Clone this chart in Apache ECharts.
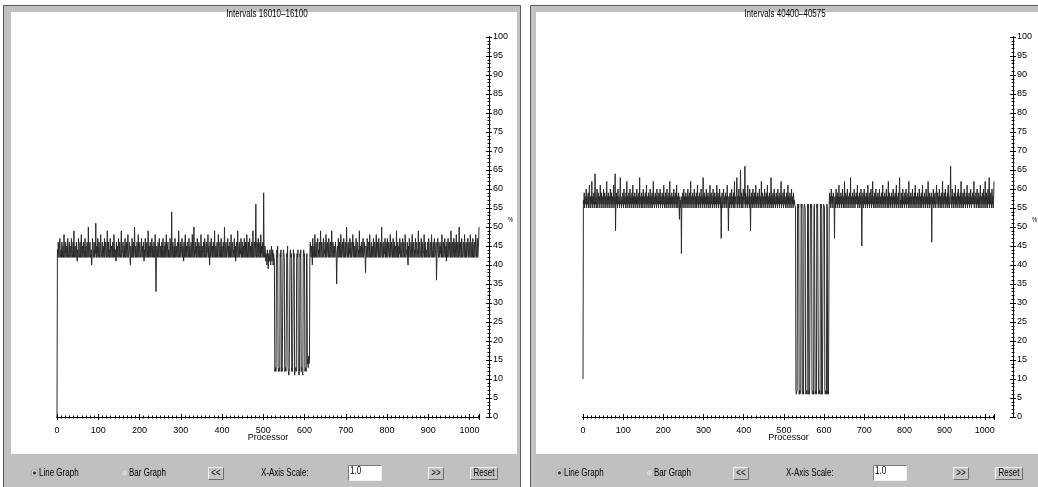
<!DOCTYPE html>
<html>
<head>
<meta charset="utf-8">
<script src="https://cdn.jsdelivr.net/npm/echarts@6/dist/echarts.min.js"></script>
<style>
html,body{margin:0;padding:0;background:#fff;}
#c{width:1038px;height:487px;}
</style>
</head>
<body>
<div id="c"></div>
<script>
// Per-processor utilisation (%) for two interval windows, processors 0..1023
const leftTitle = 'Intervals 16010\u201316100';
const rightTitle = 'Intervals 40400\u201340575';
const xAxisName = 'Processor';
const yUnit = '%';
const scaleValue = '1.0';
const controlLabels = ['Line Graph', 'Bar Graph', '<<', 'X-Axis Scale:', '>>', 'Reset'];

const leftUsage = [
0,44,42,46,43,42,45,47,42,43,44,42,46,42,45,43,42,48,44,42,43,46,42,44,45,42,47,43,42,44,46,42,
43,45,42,47,44,42,43,46,42,49,43,42,45,44,42,46,43,41,44,42,47,45,42,43,46,42,44,48,42,43,45,42,
46,43,42,44,47,42,45,43,42,46,44,42,50,43,42,45,46,42,43,44,40,42,47,45,42,43,46,42,44,43,51,42,
45,42,43,47,44,42,46,43,42,45,48,42,43,44,46,42,45,43,42,47,42,44,46,43,42,45,49,42,43,46,42,44,
42,47,43,42,45,44,42,46,43,42,48,45,42,43,44,41,46,42,45,43,42,47,44,42,46,43,42,45,49,42,43,44,
46,42,43,45,42,47,44,42,46,43,42,45,48,42,43,44,46,42,40,45,43,42,47,44,42,46,42,43,50,44,42,45,
43,42,46,44,42,48,43,42,45,46,42,43,44,47,42,45,43,42,46,41,44,42,47,43,42,45,46,42,44,49,42,43,
45,42,46,43,42,44,47,42,45,43,42,46,44,42,48,43,33,42,45,44,42,46,43,42,47,44,42,45,43,42,46,42,
44,47,42,43,45,42,46,44,42,48,43,42,45,46,42,44,43,42,47,45,42,43,54,42,44,46,42,43,45,42,47,44,
42,45,43,42,46,44,42,49,43,42,45,46,42,43,44,47,42,45,43,41,46,42,44,48,42,43,45,42,46,44,42,43,
47,42,45,43,42,46,44,42,48,43,42,45,50,42,44,43,46,42,45,42,47,44,42,43,46,42,45,43,42,48,44,42,
45,43,42,46,44,42,47,43,42,45,46,42,43,44,48,42,45,43,40,46,42,44,47,43,42,45,42,46,44,42,49,43,
42,45,44,42,46,43,42,48,45,42,43,46,42,44,47,42,45,43,42,46,44,42,50,43,42,45,46,42,43,44,47,42,
45,43,42,46,44,42,48,43,42,45,46,42,44,43,47,42,45,41,43,46,42,44,49,42,43,45,46,42,44,43,47,42,
44,46,42,43,45,42,47,44,42,46,43,42,48,45,42,43,46,42,44,47,42,45,43,42,46,44,42,49,43,42,45,46,
42,44,56,43,42,46,45,42,47,43,42,44,46,42,48,43,45,42,44,46,42,59,43,42,45,44,41,43,42,40,44,42,
39,43,42,41,44,42,40,43,45,41,42,44,40,43,42,41,12,12,13,12,42,44,42,45,13,12,12,13,12,43,42,44,
12,13,12,12,42,44,43,42,12,12,13,12,12,43,42,45,13,12,11,12,12,42,44,42,43,12,13,12,12,44,42,43,
11,12,12,13,12,42,43,42,44,12,12,11,12,43,42,44,12,13,12,12,11,42,44,42,43,12,12,13,12,42,43,14,
15,13,16,14,15,42,46,43,42,45,44,40,47,42,43,45,42,48,44,42,46,43,42,45,47,42,44,43,46,42,45,49,
42,44,46,43,42,45,47,42,44,43,46,42,48,45,42,43,46,44,42,47,43,42,45,46,42,44,49,42,43,46,44,42,
45,43,42,46,44,42,35,43,45,42,47,44,42,46,43,42,48,45,42,44,46,43,42,47,45,42,43,46,42,44,50,43,
42,45,46,42,44,43,47,42,45,46,42,43,44,48,42,46,43,42,45,44,42,47,43,42,46,45,42,44,43,49,42,45,
44,42,46,43,42,45,47,42,44,46,43,42,38,45,44,42,47,43,42,46,45,42,48,43,42,44,46,42,45,43,42,47,
43,42,46,44,42,45,48,42,43,46,44,42,47,43,42,45,46,42,44,50,43,42,45,46,42,44,43,47,42,45,46,42,
44,47,42,43,46,45,42,44,48,42,43,46,44,42,45,47,42,43,46,42,44,45,42,49,43,42,46,44,42,45,43,47,
42,44,46,43,42,45,47,42,44,46,43,42,48,45,42,44,43,46,42,40,45,42,47,44,42,43,46,45,42,48,43,42,
45,46,42,44,43,47,42,45,46,42,44,43,49,42,45,46,42,43,44,47,42,46,45,42,43,44,48,42,45,46,42,44,
43,42,46,45,42,47,44,42,43,46,45,42,48,43,42,44,46,42,45,47,42,43,44,46,36,42,45,47,43,42,46,44,
42,45,43,46,42,48,44,42,45,46,42,43,47,44,42,45,41,46,42,43,47,45,42,44,46,43,42,49,45,42,44,46,
42,43,47,45,42,46,44,42,48,43,42,45,46,42,44,50,43,42,45,46,42,47,44,42,43,46,45,42,48,44,42,45,
46,42,43,45,47,42,44,46,43,42,48,45,42,44,46,42,47,43,42,45,46,42,44,48,43,42,45,47,42,44,46,50
];

const rightUsage = [
10,57,56,59,55,58,57,56,60,55,58,56,57,59,55,57,61,56,55,58,57,56,62,55,58,57,56,59,55,57,64,56,
58,55,57,60,56,55,59,57,56,58,55,61,57,56,59,55,58,57,56,60,55,57,59,56,58,55,57,62,56,58,55,59,
57,56,58,55,60,57,56,59,55,58,56,57,61,55,58,56,64,49,57,59,56,58,55,60,57,56,58,55,59,63,56,57,
55,58,56,59,57,55,60,56,58,57,55,59,56,62,55,58,57,56,59,55,57,60,56,58,55,57,59,56,61,55,58,57,
56,59,55,58,57,56,60,55,58,56,57,59,55,63,56,58,57,55,59,56,58,55,60,57,56,58,55,59,57,56,61,55,
58,56,57,59,55,58,56,60,57,55,58,56,59,55,57,62,56,58,55,57,59,56,58,55,60,57,56,58,55,59,56,57,
60,55,58,56,57,59,55,58,56,61,57,55,58,56,59,55,57,60,56,58,55,57,59,56,62,55,58,57,56,59,55,58,
56,57,60,55,58,56,59,57,55,61,56,58,55,57,59,56,52,58,55,57,56,43,58,56,59,55,57,60,56,58,55,57,
59,56,58,55,57,60,56,58,55,59,57,56,62,55,58,56,57,59,55,58,56,60,57,55,58,56,59,55,57,61,56,58,
55,57,59,56,58,55,60,57,56,58,55,63,56,57,59,55,58,56,57,60,55,58,56,59,57,55,58,56,61,55,57,59,
56,58,55,57,60,56,58,55,59,57,56,58,55,61,56,57,59,55,58,56,60,57,55,58,47,56,59,57,55,58,60,56,
58,55,57,59,56,58,55,61,57,56,49,58,55,57,59,56,58,55,60,57,56,58,55,59,56,62,55,58,57,56,59,63,
55,58,56,57,60,55,58,56,65,57,55,59,56,58,55,60,57,56,58,66,55,59,57,56,58,55,61,57,56,58,55,60,
57,49,58,56,59,55,57,60,56,58,55,59,57,56,61,55,58,56,57,59,55,58,56,60,57,55,58,56,62,55,57,59,
56,58,55,57,60,56,58,55,59,57,56,61,55,58,56,57,59,55,58,56,63,57,55,58,56,59,55,57,60,56,58,55,
57,59,56,58,55,60,57,56,58,55,59,57,56,62,55,58,56,57,59,55,58,60,56,57,55,58,56,59,55,57,61,56,
58,55,57,59,56,58,55,60,57,56,58,55,59,56,57,56,56,55,7,6,6,7,56,56,55,56,6,7,6,6,7,56,
55,56,6,6,7,6,55,56,56,55,7,6,6,7,6,56,55,56,6,7,6,6,56,56,55,56,7,6,6,7,6,55,
56,56,6,6,7,6,56,55,56,56,7,6,6,7,6,56,55,56,6,7,6,6,55,56,56,55,7,6,6,7,6,56,
55,6,7,6,6,57,59,56,58,55,60,57,56,58,55,59,57,56,47,58,55,57,60,56,58,55,59,57,56,61,55,58,
56,57,59,55,58,56,60,57,55,58,56,62,55,57,59,56,58,55,60,57,56,58,55,59,57,56,63,55,58,56,57,59,
55,58,56,60,57,55,58,56,59,57,56,61,55,58,56,57,59,55,58,56,60,57,45,58,56,59,55,57,60,56,58,55,
57,59,56,58,55,61,57,56,58,55,59,56,57,60,55,58,56,62,57,55,58,56,59,55,57,60,56,58,55,57,59,56,
58,55,60,57,56,58,55,59,57,56,61,55,58,56,57,59,55,58,56,60,57,55,58,56,62,55,57,59,56,58,55,57,
59,56,58,55,60,57,56,58,55,59,56,57,61,55,58,56,57,59,55,58,63,56,57,55,59,56,58,55,60,57,56,58,
55,59,57,56,60,55,58,56,57,59,55,62,56,58,55,57,59,56,58,55,60,57,56,58,55,59,56,61,57,55,58,56,
57,59,55,58,56,60,57,55,58,56,59,55,57,61,56,58,55,57,59,56,58,55,60,57,56,58,55,62,56,57,59,55,
58,56,57,59,46,58,56,57,60,55,58,56,59,57,55,58,61,56,57,59,55,58,56,60,57,55,58,56,59,55,57,62,
56,58,55,59,57,56,60,55,58,56,57,59,55,61,56,58,55,57,59,66,56,58,55,60,57,56,58,55,59,57,56,61,
55,58,56,57,59,55,60,57,56,58,55,59,56,62,57,55,58,56,59,55,57,60,56,58,55,57,59,56,61,55,58,56,
57,59,55,58,56,60,57,55,58,56,59,57,56,62,55,58,56,57,59,55,58,60,56,57,55,59,56,58,55,61,57,56,
58,55,59,57,56,60,55,58,56,62,57,55,59,56,58,55,60,57,56,63,55,58,56,59,57,55,60,56,58,55,57,62
];

const AXIS_FONT = "'Liberation Sans',Arial,sans-serif";
const UI_FONT = "'Liberation Sans',Arial,sans-serif";
const SQUEEZE = 0.8; // narrow face look for UI text

// per panel: frame offset, sheet left edge, plot left, plot width, y-axis offset, title centre, control offset
const panels = [
  {dx: 0,   sheetX: 11,  left: 57,  width: 422, yOff: 10, titleX: 267, cdx: 0,   title: leftTitle,  data: leftUsage},
  {dx: 527, sheetX: 536, left: 583, width: 411, yOff: 19, titleX: 785, cdx: 525, title: rightTitle, data: rightUsage}
];

const PLOT_TOP = 37, PLOT_H = 380;

const grids = [], xAxes = [], yAxes = [], series = [], graphics = [];

function uiText(x, y, text, size, align, extra) {
  return Object.assign({type: 'text', z: 7, x: x, y: y, scaleX: SQUEEZE,
    style: {text: text, fontFamily: UI_FONT, fontSize: size, fill: '#000',
      align: align || 'left', verticalAlign: 'middle'}}, extra || {});
}

panels.forEach((p, gi) => {
  grids.push({left: p.left, top: PLOT_TOP, width: p.width, height: PLOT_H});

  const xBase = {type: 'value', gridIndex: gi, min: 0, max: 1023, position: 'bottom',
    splitLine: {show: false}, axisLine: {onZero: false, lineStyle: {color: '#000', width: 1}}};
  const xMain = xAxes.length;
  // major ticks (outward, with labels and name)
  xAxes.push(Object.assign({}, xBase, {
    interval: 100,
    axisTick: {length: 3, lineStyle: {color: '#000'}},
    axisLabel: {show: true, margin: 9, fontFamily: AXIS_FONT, fontSize: 9, color: '#000',
      formatter: v => (v % 100 === 0 ? String(v) : '')},
    name: xAxisName, nameLocation: 'middle', nameGap: 16, nameMoveOverlap: false,
    nameTextStyle: {fontFamily: AXIS_FONT, fontSize: 9, color: '#000', verticalAlign: 'top'}
  }));
  // major ticks (inward)
  xAxes.push(Object.assign({}, xBase, {interval: 100,
    axisTick: {inside: true, length: 3, lineStyle: {color: '#000'}}, axisLabel: {show: false}}));
  // minor ticks every 10 processors, both sides
  xAxes.push(Object.assign({}, xBase, {interval: 10,
    axisTick: {length: 1.5, lineStyle: {color: '#000'}}, axisLabel: {show: false}}));
  xAxes.push(Object.assign({}, xBase, {interval: 10,
    axisTick: {inside: true, length: 1.5, lineStyle: {color: '#000'}}, axisLabel: {show: false}}));

  const yBase = {type: 'value', gridIndex: gi, min: 0, max: 100, position: 'right', offset: p.yOff,
    splitLine: {show: false}, axisLine: {show: true, onZero: false, lineStyle: {color: '#000', width: 1}}};
  const yMain = yAxes.length;
  yAxes.push(Object.assign({}, yBase, {interval: 5,
    axisTick: {length: 3, lineStyle: {color: '#000'}},
    axisLabel: {show: true, margin: 4, fontFamily: AXIS_FONT, fontSize: 9, color: '#000'}}));
  yAxes.push(Object.assign({}, yBase, {interval: 5,
    axisTick: {inside: true, length: 3, lineStyle: {color: '#000'}}, axisLabel: {show: false}}));
  yAxes.push(Object.assign({}, yBase, {interval: 1,
    axisTick: {length: 1.5, lineStyle: {color: '#000'}}, axisLabel: {show: false}}));
  yAxes.push(Object.assign({}, yBase, {interval: 1,
    axisTick: {inside: true, length: 1.5, lineStyle: {color: '#000'}}, axisLabel: {show: false}}));

  series.push({
    type: 'line', xAxisIndex: xMain, yAxisIndex: yMain,
    data: p.data.map((v, i) => [i, v]),
    showSymbol: false, symbol: 'none', silent: true, animation: false,
    lineStyle: {color: '#2a2a2a', width: 1}
  });

  // panel frame, grey control strip and white plot sheet
  graphics.push({type: 'rect', z: -20, silent: true,
    shape: {x: 3 + p.dx, y: 5, width: 518, height: 490}, style: {fill: '#c0c0c0'}});
  graphics.push({type: 'polyline', z: -19, silent: true,
    shape: {points: [[3.5 + p.dx, 490], [3.5 + p.dx, 5.5], [520.5 + p.dx, 5.5], [520.5 + p.dx, 490]]},
    style: {stroke: '#5a5a5a', fill: null, lineWidth: 1}});
  graphics.push({type: 'rect', z: -18, silent: true,
    shape: {x: p.sheetX, y: 12, width: 517 + p.dx - p.sheetX, height: 442}, style: {fill: '#fff'}});

  // chart title and unit
  graphics.push(uiText(p.titleX, 14.5, p.title, 10, 'center'));
  graphics.push(uiText(p.left + p.width + p.yOff + 19, 220, yUnit, 7, 'left'));

  // control strip
  const c = p.cdx, cy = 473;
  // radio buttons
  graphics.push({type: 'circle', z: 5, shape: {cx: 34.5 + c, cy: cy, r: 3.5},
    style: {fill: '#e6e6e6', stroke: '#9a9a9a', lineWidth: 1}});
  graphics.push({type: 'circle', z: 6, shape: {cx: 34.5 + c, cy: cy, r: 1.8},
    style: {fill: '#3a3a3a'}});
  graphics.push(uiText(39 + c, cy, controlLabels[0], 10));
  graphics.push({type: 'circle', z: 5, shape: {cx: 124.5 + c, cy: cy, r: 3.5},
    style: {fill: '#d4d4d4', stroke: '#b4b4b4', lineWidth: 1}});
  graphics.push(uiText(129 + c, cy, controlLabels[1], 10));

  // push buttons
  const button = (x, w, label) => {
    graphics.push({type: 'rect', z: 5, shape: {x: x + c + 0.5, y: 467.5, width: w, height: 12},
      style: {fill: '#c4c4c4', stroke: '#f4f4f4', lineWidth: 1}});
    graphics.push({type: 'polyline', z: 6,
      shape: {points: [[x + c + 0.5, 479.5], [x + c + w + 0.5, 479.5], [x + c + w + 0.5, 467.5]]},
      style: {stroke: '#6e6e6e', fill: null, lineWidth: 1}});
    graphics.push(uiText(x + c + w / 2 + 0.5, 473.5, label, 10, 'center'));
  };
  button(208, 15, controlLabels[2]);
  button(428, 15, controlLabels[4]);
  button(470, 27, controlLabels[5]);

  graphics.push(uiText(261 + c, cy, controlLabels[3], 10));

  // scale input field
  graphics.push({type: 'rect', z: 5, shape: {x: 348.5 + c, y: 465.5, width: 33, height: 15},
    style: {fill: '#fff', stroke: '#f0f0f0', lineWidth: 1}});
  graphics.push({type: 'polyline', z: 6,
    shape: {points: [[348.5 + c, 480.5], [348.5 + c, 465.5], [381.5 + c, 465.5]]},
    style: {stroke: '#7a7a7a', fill: null, lineWidth: 1}});
  graphics.push(uiText(350 + c, 471, scaleValue, 10));
});

const chart = echarts.init(document.getElementById('c'), null, {renderer: 'canvas'});
chart.setOption({
  backgroundColor: '#fff',
  animation: false,
  grid: grids,
  xAxis: xAxes,
  yAxis: yAxes,
  series: series,
  graphic: {elements: graphics}
});
</script>
</body>
</html>
